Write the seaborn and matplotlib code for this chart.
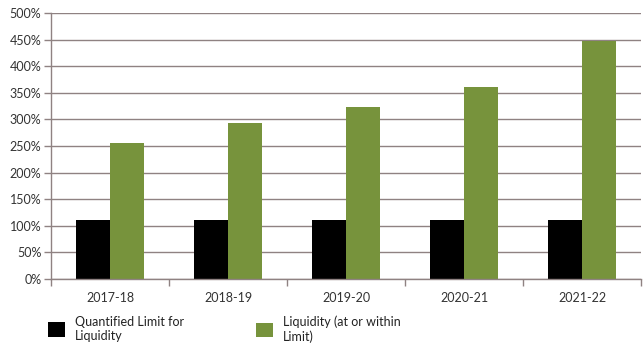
import matplotlib
matplotlib.use("Agg")
import matplotlib.pyplot as plt
from matplotlib.patches import Patch
from matplotlib.ticker import FixedLocator, PercentFormatter
import seaborn as sns
import pandas as pd

years = ["2017-18", "2018-19", "2019-20", "2020-21", "2021-22"]
limit_pct = [110, 110, 110, 110, 110]
liquidity_pct = [256, 294, 324, 360, 448]
series_names = ["Quantified Limit for\nLiquidity", "Liquidity (at or within\nLimit)"]
colors = ["#000000", "#77933C"]

df = pd.DataFrame({
    "year": years * 2,
    "value": limit_pct + liquidity_pct,
    "series": [series_names[0]] * len(years) + [series_names[1]] * len(years),
})

sns.set_theme(style="white")
plt.rcParams["font.family"] = ["Lato", "DejaVu Sans"]

fig = plt.figure(figsize=(6.44, 3.51), dpi=100)
ax = fig.add_axes([51 / 644, 72 / 351, 590 / 644, 266 / 351])

sns.barplot(data=df, x="year", y="value", hue="series", palette=colors,
            width=0.576, gap=0, saturation=1, linewidth=0, ax=ax, legend=False)

grid_c = "#8f8282"
ax.set_ylim(0, 500)
ax.set_xlim(-0.5, len(years) - 0.5)
ax.set_yticks(range(0, 501, 50))
ax.yaxis.set_major_formatter(PercentFormatter(decimals=0))
ax.yaxis.grid(True, color=grid_c, linewidth=1.0)
ax.set_axisbelow(True)
ax.set_xlabel("")
ax.set_ylabel("")

for side in ["top", "right"]:
    ax.spines[side].set_visible(False)
for side in ["left", "bottom"]:
    ax.spines[side].set_color(grid_c)
    ax.spines[side].set_linewidth(1.0)

ax.tick_params(axis="y", which="major", length=5, color=grid_c, width=1,
               left=True, labelsize=9, labelcolor="#333333", pad=2)
ax.tick_params(axis="x", which="major", length=0, labelsize=9,
               labelcolor="#333333", pad=9)
ax.xaxis.set_minor_locator(FixedLocator([i - 0.5 for i in range(len(years) + 1)]))
ax.tick_params(axis="x", which="minor", length=5, color=grid_c, width=1, bottom=True)

# Legend entries placed beneath the axis
for name, col, x in zip(series_names, colors, [39 / 644, 247 / 644]):
    fig.legend(handles=[Patch(facecolor=col, edgecolor="none", label=name)],
               loc="upper left", bbox_to_anchor=(x, 1 - 307 / 351),
               frameon=False, fontsize=9, handlelength=1.4, handleheight=1.4,
               handletextpad=0.8, borderpad=0.2, labelspacing=0.2,
               labelcolor="#222222")

fig.savefig("out.png", dpi=100)
